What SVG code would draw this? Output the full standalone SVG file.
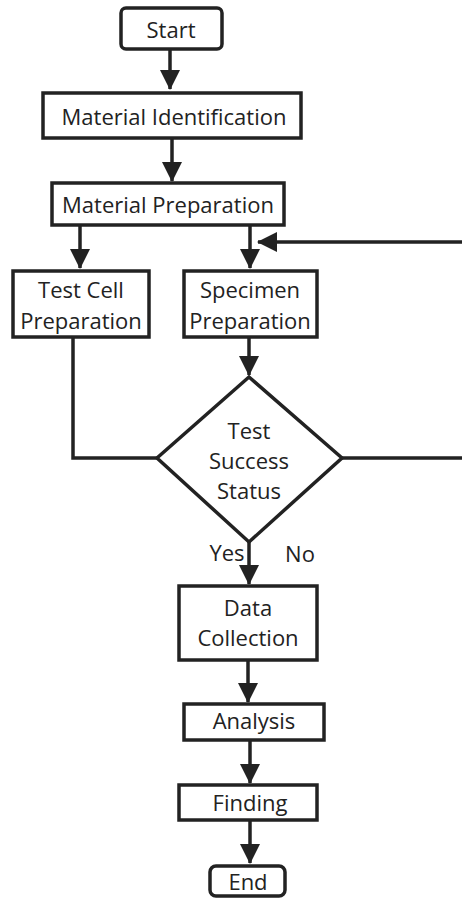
<svg xmlns="http://www.w3.org/2000/svg" width="462" height="898" viewBox="0 0 462 898">
<defs>
<style>
.box{fill:#fff;stroke:#222;stroke-width:3.5}
.t{font-family:"Open Sans","Liberation Sans",sans-serif;font-size:22px;fill:#222;text-anchor:middle;dominant-baseline:central}
.c{fill:none;stroke:#222;stroke-width:3.5}
</style>
<marker id="ah" markerUnits="userSpaceOnUse" markerWidth="21" markerHeight="22" refX="19" refY="10" orient="auto" viewBox="0 0 21 20">
<path d="M0,0 L20,10 L0,20 z" fill="#222"/>
</marker>
</defs>
<rect width="462" height="898" fill="#fff"/>
<g id="connectors">
<path class="c" d="M170,50 V89" marker-end="url(#ah)"/>
<path class="c" d="M172,138 V181" marker-end="url(#ah)"/>
<path class="c" d="M80,225 V268" marker-end="url(#ah)"/>
<path class="c" d="M250,225 V268" marker-end="url(#ah)"/>
<path class="c" d="M342,458 H468 V242 H258" marker-end="url(#ah)"/>
<path class="c" d="M73,337 V458 H157"/>
<path class="c" d="M249,338 V375" marker-end="url(#ah)"/>
<path class="c" d="M249,542 V584" marker-end="url(#ah)"/>
<path class="c" d="M248,660 V702" marker-end="url(#ah)"/>
<path class="c" d="M250,740 V783" marker-end="url(#ah)"/>
<path class="c" d="M250,820 V863" marker-end="url(#ah)"/>
</g>
<g id="start"><rect class="box" x="121" y="8" width="101" height="41" rx="5"/><text class="t" x="171" y="29">Start</text></g>
<g id="material-identification"><rect class="box" x="43" y="93" width="258" height="45"/><text class="t" x="174" y="116">Material Identification</text></g>
<g id="material-preparation"><rect class="box" x="52" y="183" width="232" height="42"/><text class="t" x="168" y="204">Material Preparation</text></g>
<g id="test-cell-preparation"><rect class="box" x="13" y="271" width="136" height="66"/><text class="t" x="81" y="289">Test Cell</text><text class="t" x="81" y="320">Preparation</text></g>
<g id="specimen-preparation"><rect class="box" x="184" y="271" width="133" height="66"/><text class="t" x="250" y="289">Specimen</text><text class="t" x="250" y="320">Preparation</text></g>
<g id="test-success-status"><polygon class="box" points="249,377 342,458 249,542 157,458"/><text class="t" x="249" y="430">Test</text><text class="t" x="249" y="460">Success</text><text class="t" x="249" y="490">Status</text></g>
<g id="labels"><text class="t" x="227" y="552">Yes</text><text class="t" x="300" y="553">No</text></g>
<g id="data-collection"><rect class="box" x="179" y="586" width="138" height="74"/><text class="t" x="248" y="607">Data</text><text class="t" x="248" y="637">Collection</text></g>
<g id="analysis"><rect class="box" x="184" y="704" width="140" height="36"/><text class="t" x="254" y="720">Analysis</text></g>
<g id="finding"><rect class="box" x="179" y="785" width="138" height="35"/><text class="t" x="250" y="802">Finding</text></g>
<g id="end"><rect class="box" x="210" y="866" width="75" height="30" rx="6"/><text class="t" x="248" y="881">End</text></g>
</svg>
